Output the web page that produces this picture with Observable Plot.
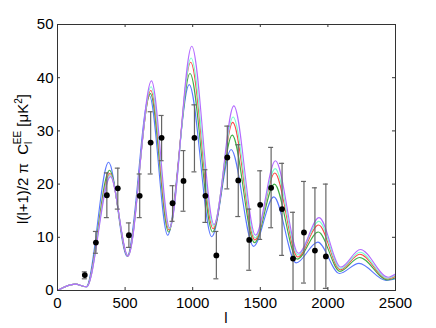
<!DOCTYPE html>
<html><head><meta charset="utf-8">
<script src="https://cdn.jsdelivr.net/npm/d3@7"></script>
<script src="https://cdn.jsdelivr.net/npm/@observablehq/plot@0.6"></script>
<style>body{margin:0;background:#fff}</style>
</head><body><div id="chart"></div>
<script>
// Tick labels
const xTicks = [0, 500, 1000, 1500, 2000, 2500];
const yTicks = [0, 10, 20, 30, 40, 50];

// Binned data points with error bars
const binL  = [202, 284, 365, 446, 528, 608, 689, 770, 851, 932, 1013, 1094, 1175, 1256, 1337, 1418, 1499, 1580, 1661, 1742, 1823, 1904, 1985];
const binV  = [2.9, 9.0, 17.9, 19.2, 10.4, 17.8, 27.8, 28.7, 16.4, 20.6, 28.7, 17.8, 6.6, 25.0, 20.7, 9.5, 16.1, 19.3, 15.3, 6.0, 10.9, 7.5, 6.4];
const binHi = [3.5, 11.1, 22.1, 23.0, 12.7, 21.9, 33.6, 32.9, 19.7, 26.3, 34.9, 22.7, 11.1, 30.9, 27.4, 15.3, 22.5, 26.9, 23.9, 14.7, 20.5, 19.3, 20.0];
const binLo = [2.2, 7.0, 13.7, 15.3, 8.1, 13.7, 21.9, 24.4, 13.0, 14.9, 22.3, 12.8, 2.2, 19.1, 13.9, 3.8, 9.6, 11.8, 6.6, -0.5, 1.4, -0.5, 0.4];

// Model curves (multipole l, value) read at extrema
const lBlue  = [0, 130, 212, 378, 515, 680, 815, 974, 1141, 1284, 1450, 1600, 1765, 1925, 2085, 2230, 2430, 2500];
const clBlue = [0, 1.2, 0.7, 24.1, 6.4, 36.6, 10.4, 38.7, 10.1, 26.5, 8.3, 17.6, 5.2, 9.1, 3.2, 5.1, 1.9, 2.2];
const lGreen  = [0, 130, 214, 385, 519, 687, 822, 980, 1147, 1292, 1457, 1604, 1773, 1929, 2089, 2234, 2440, 2500];
const clGreen = [0, 1.2, 0.7, 22.6, 6.5, 37.0, 11.0, 40.8, 11.0, 29.2, 9.0, 20.0, 5.9, 11.0, 3.6, 6.2, 2.0, 2.4];
const lRed  = [0, 130, 215, 388, 520, 690, 825, 985, 1151, 1296, 1460, 1607, 1777, 1931, 2091, 2236, 2440, 2500];
const clRed = [0, 1.2, 0.7, 22.0, 6.5, 37.6, 11.4, 42.9, 11.6, 31.6, 9.5, 22.1, 6.3, 12.3, 3.9, 6.8, 2.2, 2.7];
const lCyan  = [0, 130, 215, 390, 521, 692, 828, 988, 1154, 1299, 1462, 1610, 1779, 1933, 2093, 2238, 2440, 2500];
const clCyan = [0, 1.2, 0.7, 21.7, 6.5, 38.3, 11.6, 43.7, 12.1, 32.6, 9.9, 22.9, 6.7, 13.0, 4.1, 7.2, 2.3, 2.9];
const lMag  = [0, 130, 215, 392, 522, 695, 830, 993, 1158, 1304, 1465, 1612, 1782, 1935, 2095, 2240, 2445, 2500];
const clMag = [0, 1.2, 0.7, 21.4, 6.5, 39.4, 11.8, 45.9, 12.4, 34.7, 10.4, 24.4, 7.0, 13.7, 4.4, 7.7, 2.5, 3.1];

const seriesNames = ["model 1", "model 2", "model 3", "model 4", "model 5"];
const seriesColors = ["#5a78ff", "#3fae45", "#ff4a4a", "#7dffd0", "#b46cff"];
const seriesL = [lBlue, lGreen, lRed, lCyan, lMag];
const seriesC = [clBlue, clGreen, clRed, clCyan, clMag];

const curveRows = seriesNames.flatMap((s, k) => seriesL[k].map((l, i) => ({s, l, c: seriesC[k][i]})));
const pts = binL.map((l, i) => ({l, v: binV[i], hi: binHi[i], lo: binLo[i]}));

const W = 436, H = 328, mt = 24, mb = 38, ml = 57, mr = 41;
const ph = H - mt - mb, pw = W - ml - mr;
const FONT = "'Liberation Sans', Arial, Helvetica, sans-serif";

const chart = Plot.plot({
  width: W, height: H,
  marginTop: mt, marginBottom: mb, marginLeft: ml, marginRight: mr,
  style: {fontFamily: FONT, fontSize: "15px", background: "#fff", color: "#000"},
  x: {domain: [0, 2500]},
  y: {domain: [0, 50]},
  color: {type: "ordinal", domain: seriesNames, range: seriesColors},
  marks: [
    Plot.line(curveRows, {x: "l", y: "c", z: "s", stroke: "s", curve: "monotone-x", strokeWidth: 1.1}),
    Plot.ruleX(pts, {x: "l", y1: "lo", y2: "hi", stroke: "#666", strokeWidth: 1.2, clip: true}),
    Plot.ruleY(pts, {y: "hi", x1: "l", x2: "l", insetLeft: -2.5, insetRight: -2.5, stroke: "#666", strokeWidth: 1.2, clip: true}),
    Plot.ruleY(pts, {y: "lo", x1: "l", x2: "l", insetLeft: -2.5, insetRight: -2.5, stroke: "#666", strokeWidth: 1.2, clip: true}),
    Plot.dot(pts, {x: "l", y: "v", r: 2.9, fill: "#000", stroke: "none"}),
    Plot.tickX(xTicks, {x: d => d, insetTop: ph - 3, stroke: "#333"}),
    Plot.tickX(xTicks, {x: d => d, insetBottom: ph - 3, stroke: "#333"}),
    Plot.tickY(yTicks, {y: d => d, insetRight: pw - 3, stroke: "#333"}),
    Plot.tickY(yTicks, {y: d => d, insetLeft: pw - 3, stroke: "#333"}),
    Plot.frame({stroke: "#333"}),
    Plot.axisX(xTicks, {tickSize: 0, tickPadding: 7, label: null, tickFormat: d3.format("d"), className: "tk"}),
    Plot.axisY(yTicks, {tickSize: 0, tickPadding: 4, label: null, tickFormat: d3.format("d"), className: "tk"})
  ]
});

document.getElementById("chart").appendChild(chart);
const svg = d3.select(chart);
svg.selectAll("[aria-label='x-axis tick label'], [aria-label='y-axis tick label']")
  .attr("font-size", 15).style("font-size", "15px");
svg.selectAll("[aria-label='x-axis tick label'] text, [aria-label='y-axis tick label'] text")
  .style("font-size", "15px");

// x-axis title
svg.append("text")
  .attr("x", ml + pw / 2).attr("y", H - 5)
  .attr("text-anchor", "middle")
  .attr("font-family", FONT).style("font-size", "15px").attr("fill", "#000")
  .text("l");

// y-axis title with sub/superscripts
const yt = svg.append("text")
  .attr("transform", `translate(28,${mt + ph / 2 + 2}) rotate(-90)`)
  .attr("text-anchor", "middle")
  .attr("font-family", FONT).style("font-size", "15px").attr("fill", "#000");
yt.append("tspan").text("l(l+1)/2 \u03c0  C");
yt.append("tspan").style("font-size", "10px").attr("dy", 4).text("l");
yt.append("tspan").style("font-size", "10px").attr("dx", -2.4).attr("dy", -11).text("EE");
yt.append("tspan").attr("dy", 7).text(" [\u03bcK");
yt.append("tspan").style("font-size", "10px").attr("dy", -6).text("2");
yt.append("tspan").attr("dy", 6).text("]");
</script>
</body></html>
